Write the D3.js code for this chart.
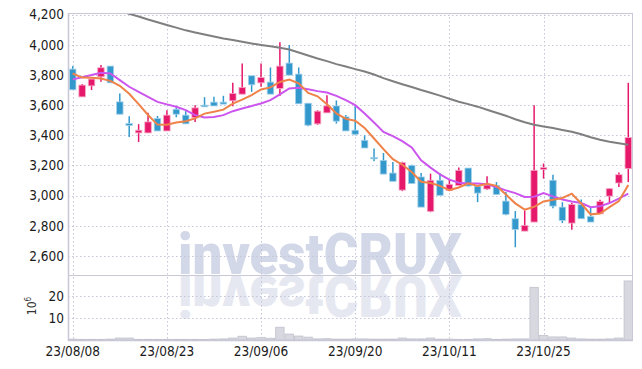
<!DOCTYPE html>
<html>
<head>
<title>Candlestick Chart</title>
<script src="https://d3js.org/d3.v7.min.js"></script>
<style>
body { margin: 0; background: #fff; }
text { font-family: "DejaVu Sans Condensed", "DejaVu Sans", sans-serif; }
</style>
</head>
<body>
<div id="chart"></div>
<script>
// trading days (yy/mm/dd)
var dates = [
  "23/08/08","23/08/09","23/08/10","23/08/11","23/08/14","23/08/16","23/08/17","23/08/18","23/08/21","23/08/22",
  "23/08/23","23/08/24","23/08/25","23/08/28","23/08/29","23/08/30","23/08/31","23/09/01","23/09/04","23/09/05",
  "23/09/06","23/09/07","23/09/08","23/09/11","23/09/12","23/09/13","23/09/14","23/09/15","23/09/18","23/09/19",
  "23/09/20","23/09/21","23/09/22","23/09/25","23/09/26","23/09/27","23/10/04","23/10/05","23/10/06","23/10/10",
  "23/10/11","23/10/12","23/10/13","23/10/16","23/10/17","23/10/18","23/10/19","23/10/20","23/10/23","23/10/24",
  "23/10/25","23/10/26","23/10/27","23/10/30","23/10/31","23/11/01","23/11/02","23/11/03","23/11/06","23/11/07"
];
var open = [
  3839,3655,3728,3788,3859,3622,3478,3416,3416,3512,
  3429,3573,3534,3518,3600,3620,3620,3629,3673,3795,
  3748,3753,3711,3879,3806,3613,3476,3549,3595,3522,
  3434,3367,3254,3234,3150,3037,3201,3124,2896,3102,
  3035,3068,3183,3062,3044,3068,2964,2847,2765,2825,
  3174,3102,2924,2818,2940,2862,2880,2997,3084,3179
];
var high = [
  3859,3740,3775,3866,3859,3678,3527,3474,3549,3529,
  3567,3595,3560,3600,3653,3655,3662,3748,3877,3795,
  3877,3850,4017,3999,3850,3613,3566,3666,3631,3534,
  3595,3400,3312,3283,3223,3225,3205,3150,3146,3150,
  3106,3186,3183,3062,3128,3090,3024,2898,2902,3600,
  3213,3139,2957,2953,2975,2924,2973,3050,3153,3748
];
var low = [
  3700,3655,3700,3755,3748,3540,3389,3356,3416,3429,
  3429,3520,3476,3489,3589,3595,3607,3593,3673,3688,
  3722,3673,3660,3799,3609,3460,3470,3549,3478,3429,
  3400,3316,3228,3143,3095,3030,3080,2924,2890,3002,
  3030,3068,3060,2957,3040,3008,2870,2658,2765,2825,
  3113,2917,2818,2774,2847,2825,2880,2957,3057,3090
];
var close = [
  3702,3733,3773,3848,3748,3540,3465,3434,3489,3429,
  3534,3540,3476,3582,3589,3595,3607,3678,3718,3735,
  3784,3673,3859,3799,3609,3467,3560,3595,3494,3429,
  3407,3316,3250,3143,3095,3219,3080,2924,3102,3002,
  3075,3168,3064,3017,3070,3008,2876,2776,2803,3168,
  3186,2931,2836,2942,2847,2825,2962,3046,3139,3385
];
// volume, 10^6 shares
var volume = [
  0.4,0.3,0.3,0.3,0.4,0.9,0.9,0.3,0.3,0.3,
  0.3,0.3,0.3,0.3,0.2,0.4,0.5,0.9,1.7,0.9,
  1.2,0.8,5.8,2.7,1.8,1.3,0.5,0.6,0.4,0.4,
  0.5,0.5,0.4,0.4,0.4,0.9,0.5,0.5,0.9,0.4,
  0.4,0.3,0.3,0.5,0.6,0.3,0.4,0.5,0.5,23.9,
  2.1,1.4,1.4,0.9,0.5,0.4,0.4,0.5,0.9,26.8
];
var ma5 = [
  3810,3783,3781,3777,3761,3728,3675,3607,3535,3471,
  3470,3485,3494,3512,3544,3556,3570,3610,3637,3667,
  3704,3718,3754,3770,3745,3681,3659,3606,3545,3509,
  3497,3448,3379,3309,3242,3205,3157,3092,3084,3065,
  3037,3054,3082,3065,3079,3065,3007,2949,2907,2926,
  2962,2973,2985,3013,2948,2876,2882,2924,2964,3071
];
var ma20 = [
  3771,3785,3800,3815,3810,3766,3722,3688,3655,3622,
  3605,3589,3567,3534,3518,3522,3534,3560,3578,3595,
  3611,3633,3671,3711,3715,3706,3693,3684,3662,3633,
  3600,3545,3485,3422,3395,3362,3320,3234,3186,3141,
  3106,3086,3080,3080,3075,3057,3035,3017,2991,2993,
  3017,2995,2975,2962,2951,2924,2929,2951,2980,3013
];
var ma120 = [
  4358,4331,4304,4278,4250,4225,4205,4188,4168,4150,
  4132,4114,4096,4082,4068,4055,4042,4032,4020,4009,
  3999,3990,3980,3969,3949,3929,3909,3892,3872,3856,
  3839,3823,3803,3779,3759,3739,3720,3700,3682,3663,
  3643,3623,3607,3590,3570,3550,3530,3507,3487,3470,
  3459,3448,3436,3424,3407,3387,3371,3357,3347,3337
];
var priceTicks = [2600, 2800, 3000, 3200, 3400, 3600, 3800, 4000, 4200];
var volTicks = [10, 20];
var dateTicks = ["23/08/08", "23/08/23", "23/09/06", "23/09/20", "23/10/11", "23/10/25"];

var W = 642, H = 369;
var pLeft = 68, pRight = 633, pTop = 13, pSplit = 275, pBottom = 340;

var svg = d3.select("#chart").append("svg").attr("width", W).attr("height", H);

var x = d3.scaleBand().domain(dates).range([pLeft, pRight]).padding(0);
var y = d3.scaleLinear().domain([2474, 4211]).range([pSplit, pTop]);
var yv = d3.scaleLinear().domain([0, 29.5]).range([pBottom, pSplit]);
var bw = x.bandwidth();
var cx = function(i) { return x(dates[i]) + bw / 2; };

svg.append("clipPath").attr("id", "clipPrice")
  .append("rect").attr("x", pLeft).attr("y", pTop).attr("width", pRight - pLeft).attr("height", pSplit - pTop);
svg.append("clipPath").attr("id", "clipVol")
  .append("rect").attr("x", pLeft).attr("y", pSplit).attr("width", pRight - pLeft).attr("height", pBottom - pSplit);

// watermark + reflection
var wmFont = "Roboto, 'DejaVu Sans', sans-serif";
var wm = svg.append("g");
wm.append("text")
  .attr("x", 320).attr("y", 274)
  .attr("text-anchor", "middle")
  .attr("textLength", 284).attr("lengthAdjust", "spacingAndGlyphs")
  .style("font-family", wmFont)
  .style("font-weight", 900).style("font-size", "58px")
  .attr("fill", "#d3d8e8")
  .text("investCRUX");
wm.append("g").attr("clip-path", "url(#clipVol)")
  .append("text")
  .attr("transform", "translate(0," + (2 * 275) + ") scale(1,-1)")
  .attr("x", 320).attr("y", 274)
  .attr("text-anchor", "middle")
  .attr("textLength", 284).attr("lengthAdjust", "spacingAndGlyphs")
  .style("font-family", wmFont)
  .style("font-weight", 900).style("font-size", "58px")
  .attr("fill", "#e6e8f1")
  .text("investCRUX");

// grid
var gridColor = "#c5c5d8";
svg.append("g").selectAll("line").data(priceTicks).enter().append("line")
  .attr("x1", pLeft).attr("x2", pRight)
  .attr("y1", function(d) { return Math.round(y(d)) + 0.5; })
  .attr("y2", function(d) { return Math.round(y(d)) + 0.5; })
  .attr("stroke", gridColor).attr("stroke-dasharray", "1.5,2.5");
svg.append("g").selectAll("line").data(volTicks).enter().append("line")
  .attr("x1", pLeft).attr("x2", pRight)
  .attr("y1", function(d) { return Math.round(yv(d)) + 0.5; })
  .attr("y2", function(d) { return Math.round(yv(d)) + 0.5; })
  .attr("stroke", gridColor).attr("stroke-dasharray", "1.5,2.5");
svg.append("g").selectAll("line").data(dateTicks).enter().append("line")
  .attr("x1", function(d) { return Math.round(x(d) + bw / 2) + 0.5; })
  .attr("x2", function(d) { return Math.round(x(d) + bw / 2) + 0.5; })
  .attr("y1", pTop).attr("y2", pBottom)
  .attr("stroke", gridColor).attr("stroke-dasharray", "1.5,2.5");

// volume bars
svg.append("g").selectAll("rect").data(volume).enter().append("rect")
  .attr("x", function(d, i) { return x(dates[i]) + 0.5; })
  .attr("width", bw - 1)
  .attr("y", function(d) { return yv(d); })
  .attr("height", function(d) { return pBottom - yv(d); })
  .attr("fill", "#d8d8e0").attr("stroke", "#c2c2ce").attr("stroke-width", 0.8);

// candles
var up = "#e5186b", down = "#3399cc";
var bodyW = 6.5;
var candles = svg.append("g").attr("clip-path", "url(#clipPrice)")
  .selectAll("g").data(dates).enter().append("g");
candles.append("line")
  .attr("x1", function(d, i) { return cx(i); })
  .attr("x2", function(d, i) { return cx(i); })
  .attr("y1", function(d, i) { return y(high[i]); })
  .attr("y2", function(d, i) { return y(low[i]); })
  .attr("stroke", function(d, i) { return close[i] >= open[i] ? up : down; })
  .attr("stroke-width", 1.5);
candles.append("rect")
  .attr("x", function(d, i) { return cx(i) - bodyW / 2; })
  .attr("width", bodyW)
  .attr("y", function(d, i) { return y(Math.max(open[i], close[i])); })
  .attr("height", function(d, i) { return Math.max(1.5, Math.abs(y(open[i]) - y(close[i]))); })
  .attr("fill", function(d, i) { return close[i] >= open[i] ? up : down; })
  .attr("stroke", function(d, i) { return close[i] >= open[i] ? "#f6a9c6" : "#a6d2ea"; })
  .attr("stroke-width", 0.8);

// moving averages
var lineGen = d3.line().x(function(d, i) { return cx(i); }).y(function(d) { return y(d); });
var maGroup = svg.append("g").attr("clip-path", "url(#clipPrice)");
maGroup.append("path").datum(ma120).attr("d", lineGen)
  .attr("fill", "none").attr("stroke", "#7f7f7f").attr("stroke-width", 2);
maGroup.append("path").datum(ma20).attr("d", lineGen)
  .attr("fill", "none").attr("stroke", "#cc55ee").attr("stroke-width", 2);
maGroup.append("path").datum(ma5).attr("d", lineGen)
  .attr("fill", "none").attr("stroke", "#ee8248").attr("stroke-width", 2);

// frame
var frame = svg.append("g").attr("fill", "none").attr("stroke", "#c8c8d6");
frame.append("line").attr("x1", pLeft + 0.5).attr("x2", pLeft + 0.5).attr("y1", pTop).attr("y2", pBottom + 1).attr("stroke-width", 1.5);
frame.append("line").attr("x1", pRight - 0.5).attr("x2", pRight - 0.5).attr("y1", pTop).attr("y2", pBottom);
frame.append("line").attr("x1", pLeft).attr("x2", pRight).attr("y1", pTop + 0.5).attr("y2", pTop + 0.5);
frame.append("line").attr("x1", pLeft).attr("x2", pRight).attr("y1", pSplit + 0.5).attr("y2", pSplit + 0.5);
frame.append("line").attr("x1", pLeft).attr("x2", pRight).attr("y1", pBottom + 0.5).attr("y2", pBottom + 0.5).attr("stroke-width", 1.5);

// axes
var fmt = d3.format(",");
var yAxis = svg.append("g").attr("transform", "translate(" + (pLeft - 4) + ",0)")
  .call(d3.axisLeft(y).tickValues(priceTicks).tickFormat(fmt).tickSize(0).tickPadding(0));
var vAxis = svg.append("g").attr("transform", "translate(" + (pLeft - 4) + ",0)")
  .call(d3.axisLeft(yv).tickValues(volTicks).tickSize(0).tickPadding(0));
var xAxis = svg.append("g").attr("transform", "translate(0," + (pBottom + 5) + ")")
  .call(d3.axisBottom(x).tickValues(dateTicks).tickSize(0).tickPadding(0));
[yAxis, vAxis, xAxis].forEach(function(a) {
  a.select(".domain").remove();
  a.selectAll("text").attr("fill", "#1a1a1a").style("font-size", "13.5px")
    .style("font-family", "'DejaVu Sans Condensed', 'DejaVu Sans', sans-serif");
});
xAxis.selectAll("text").attr("dy", "0.85em");

// unit label
svg.append("text")
  .attr("transform", "translate(36,306) rotate(-90)")
  .attr("text-anchor", "middle")
  .style("font-size", "12px").attr("fill", "#333")
  .text("10")
  .append("tspan").attr("dy", -5).style("font-size", "8px").text("6");
</script>
</body>
</html>
